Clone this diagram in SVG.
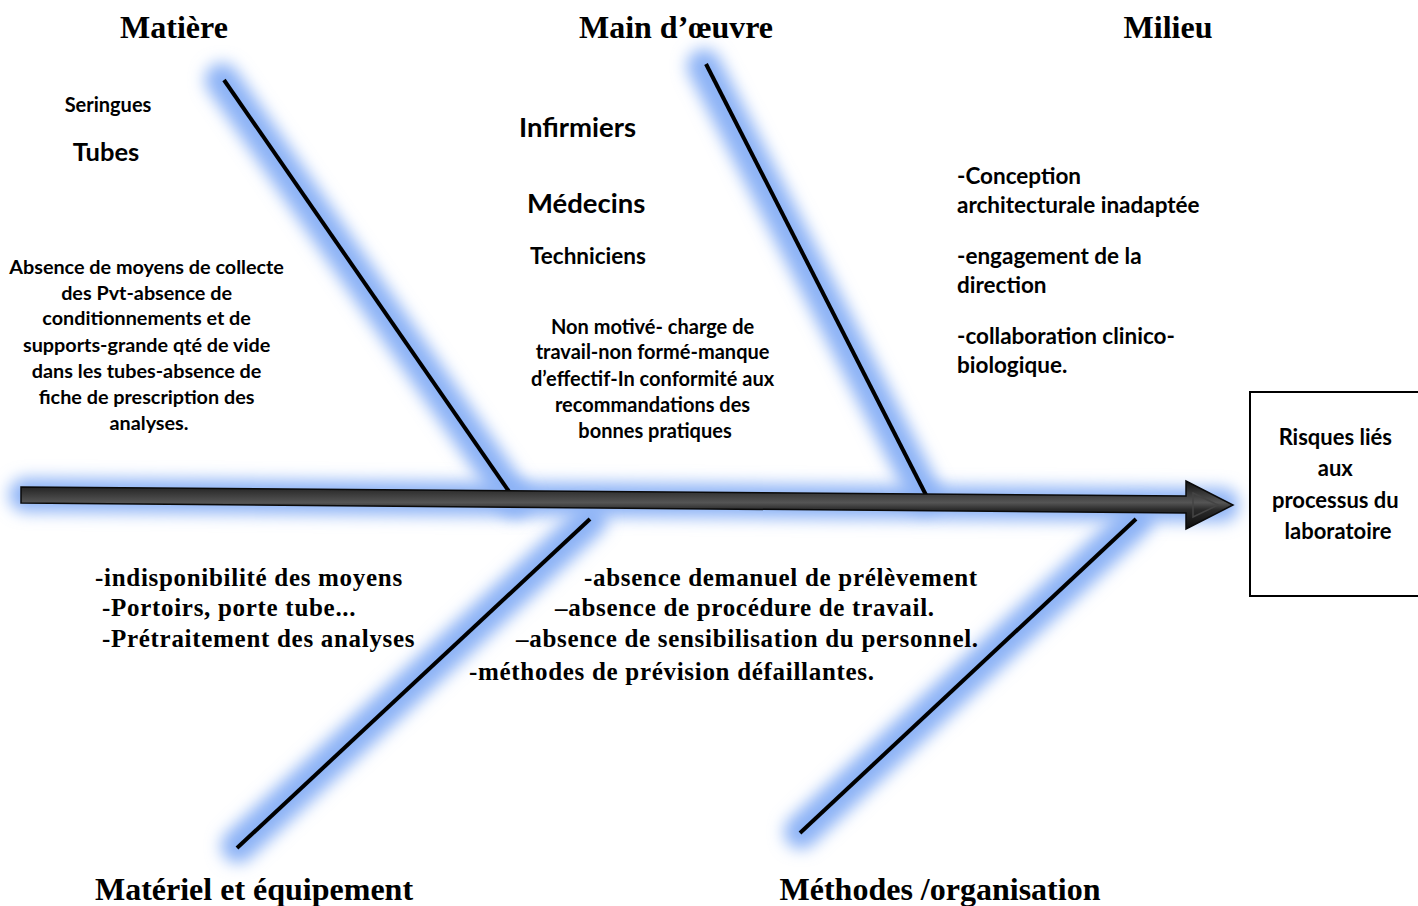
<svg xmlns="http://www.w3.org/2000/svg" width="1418" height="906" viewBox="0 0 1418 906">
<style>
.cat{font-family:"Liberation Serif","Times New Roman",serif;font-weight:bold;font-size:32px;fill:#000;text-anchor:middle}
.tb{font-family:"Liberation Serif","Times New Roman",serif;font-weight:bold;font-size:25px;letter-spacing:0.7px;fill:#000}
.sb{font-family:Lato,"Open Sans",sans-serif;font-weight:bold;fill:#000}
.glow{stroke:#8db3f6;stroke-width:34;stroke-linecap:round;fill:none;filter:url(#blur)}
.bone{stroke:#000;stroke-width:4;stroke-linecap:butt}
</style>
<defs>
<filter id="blur" filterUnits="userSpaceOnUse" x="0" y="0" width="1418" height="906"><feGaussianBlur stdDeviation="8"/></filter>
<linearGradient id="shaft" x1="0" y1="0" x2="0" y2="1">
<stop offset="0" stop-color="#111"/><stop offset="0.45" stop-color="#555"/><stop offset="0.6" stop-color="#2a2a2a"/><stop offset="1" stop-color="#0d0d0d"/>
</linearGradient>
</defs>
<rect width="1418" height="906" fill="#fff"/>
<g id="connectors">
<g id="glows">
<line class="glow" x1="26" y1="495" x2="1222" y2="505" stroke-width="40"/>
<line class="glow" x1="222" y1="80" x2="515" y2="500"/>
<line class="glow" x1="704" y1="66" x2="925" y2="495"/>
<line class="glow" x1="590" y1="520" x2="238" y2="846"/>
<line class="glow" x1="1136" y1="520" x2="801" y2="832"/>
</g>
<line class="bone" x1="224" y1="80" x2="517" y2="503"/>
<line class="bone" x1="706" y1="64" x2="927" y2="497"/>
<line class="bone" x1="590" y1="519" x2="237" y2="848"/>
<line class="bone" x1="1136" y1="519" x2="800" y2="833"/>
<polygon points="21,487 1186,496 1186,481 1233,505 1186,529 1186,513 21,503" fill="url(#shaft)" stroke="#0a0a0a" stroke-width="1.5"/>
<polygon points="1193,493 1218,505 1193,517" fill="none" stroke="#444" stroke-width="1.5"/>
</g>
<g id="title-matiere"><text class="cat" x="174" y="38">Matière</text></g>
<g id="title-main"><text class="cat" x="676" y="38">Main d’œuvre</text></g>
<g id="title-milieu"><text class="cat" x="1168" y="38">Milieu</text></g>
<g id="title-materiel"><text class="cat" x="254" y="900">Matériel et équipement</text></g>
<g id="title-methodes"><text class="cat" x="940" y="900">Méthodes /organisation</text></g>
<g id="matiere-causes">
<text class="sb" x="108" y="112" font-size="20" text-anchor="middle">Seringues</text>
<text class="sb" x="106" y="161" font-size="25.5" text-anchor="middle">Tubes</text>
<text class="sb" font-size="19.8" text-anchor="middle">
<tspan x="149" y="274">Absence de moyens de collecte</tspan>
<tspan x="149" y="300">des Pvt-absence de</tspan>
<tspan x="149" y="325">conditionnements et de</tspan>
<tspan x="149" y="352">supports-grande qté de vide</tspan>
<tspan x="149" y="378">dans les tubes-absence de</tspan>
<tspan x="149" y="404">fiche de prescription des</tspan>
<tspan x="149" y="430">analyses.</tspan>
</text>
</g>
<g id="main-causes">
<text class="sb" x="519" y="137" font-size="27.5">Infirmiers</text>
<text class="sb" x="527" y="213" font-size="27.5">Médecins</text>
<text class="sb" x="530" y="264" font-size="22.5">Techniciens</text>
<text class="sb" font-size="20" text-anchor="middle">
<tspan x="655" y="334">Non motivé- charge de</tspan>
<tspan x="655" y="359">travail-non formé-manque</tspan>
<tspan x="655" y="386">d’effectif-In conformité aux</tspan>
<tspan x="655" y="412">recommandations des</tspan>
<tspan x="655" y="438">bonnes pratiques</tspan>
</text>
</g>
<g id="milieu-causes">
<text class="sb" font-size="22.5">
<tspan x="957" y="184">-Conception</tspan>
<tspan x="957" y="213">architecturale inadaptée</tspan>
<tspan x="957" y="264">-engagement de la</tspan>
<tspan x="957" y="293">direction</tspan>
<tspan x="957" y="344">-collaboration clinico-</tspan>
<tspan x="957" y="373">biologique.</tspan>
</text>
</g>
<g id="effect">
<rect x="1250" y="392" width="172" height="204" fill="#fff" stroke="#000" stroke-width="2"/>
<text class="sb" font-size="22" text-anchor="middle">
<tspan x="1338" y="445">Risques liés</tspan>
<tspan x="1338" y="476">aux</tspan>
<tspan x="1338" y="508">processus du</tspan>
<tspan x="1338" y="539">laboratoire</tspan>
</text>
</g>
<g id="materiel-causes">
<text class="tb" x="95" y="586">-indisponibilité des moyens</text>
<text class="tb" x="102" y="616">-Portoirs, porte tube...</text>
<text class="tb" x="102" y="647">-Prétraitement des analyses</text>
</g>
<g id="methodes-causes">
<text class="tb" x="584" y="586">-absence demanuel de prélèvement</text>
<text class="tb" x="555" y="616">–absence de procédure de travail.</text>
<text class="tb" x="516" y="647">–absence de sensibilisation du personnel.</text>
<text class="tb" x="469" y="680">-méthodes de prévision défaillantes.</text>
</g>
</svg>
